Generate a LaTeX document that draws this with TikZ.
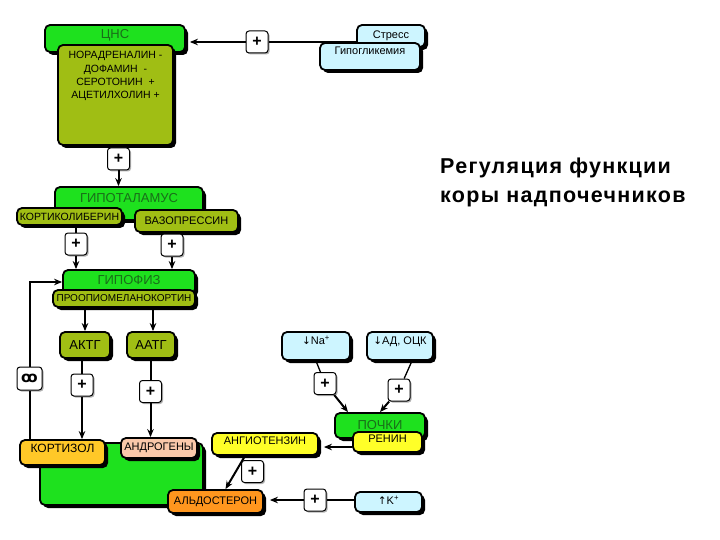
\documentclass[tikz,border=0pt]{standalone}
\usepackage{fontspec}
\setmainfont{Liberation Sans}
\newfontfamily\symfont{DejaVu Sans}
\newfontfamily\titlefont[LetterSpace=6]{Liberation Sans}
\usetikzlibrary{shadows,arrows.meta,calc}
\definecolor{cgreen}{RGB}{30,225,30}
\definecolor{colive}{RGB}{160,190,20}
\definecolor{ccyan}{RGB}{205,245,255}
\definecolor{cgold}{RGB}{255,200,40}
\definecolor{cpeach}{RGB}{250,200,170}
\definecolor{cyel}{RGB}{255,255,40}
\definecolor{corange}{RGB}{255,150,30}
\definecolor{ctext}{RGB}{25,110,25}
\newcommand{\tx}[2]{\raisebox{#1}[0pt][0pt]{#2}}
\tikzset{
 bx/.style={draw=black, line width=1.8pt, rounded corners=5pt, inner sep=0pt,
   drop shadow={shadow xshift=3pt, shadow yshift=-3pt, fill=black, opacity=1},
   font=\fontsize{11}{13}\selectfont},
 grn/.style={bx, fill=cgreen, text=ctext, font=\fontsize{13}{15}\selectfont},
 olv/.style={bx, fill=colive},
 cyn/.style={bx, fill=ccyan},
 pl/.style={draw=black, line width=1pt, rounded corners=3pt, fill=white,
   minimum width=22pt, minimum height=22pt, inner sep=0pt,
   font=\bfseries\fontsize{16}{16}\selectfont,
   drop shadow={shadow xshift=1.5pt, shadow yshift=-1.5pt, fill=gray!60, opacity=1}},
 ln/.style={line width=2pt},
 ar/.style={line width=2pt, -{Stealth[length=8pt,width=6.5pt]}},
}
\begin{document}
\begin{tikzpicture}[x=1pt,y=-1pt]
\useasboundingbox (0,0) rectangle (720,540);
\fill[white] (0,0) rectangle (720,540);

% CNS
\node[grn, minimum width=140pt, minimum height=27pt] (cns) at (115,38.5) {\tx{0pt}{ЦНС}};
\node[olv, minimum width=115pt, minimum height=100pt, font=\fontsize{10.5}{13.3}\selectfont] (nora) at (115.5,95)
  {\tx{16pt}{\begin{tabular}{@{}c@{}}НОРАДРЕНАЛИН -\\ДОФАМИН \ -\\СЕРОТОНИН \ +\\АЦЕТИЛХОЛИН +\end{tabular}}};

% stress
\node[cyn, minimum width=68pt, minimum height=22pt] (stress) at (391,36) {\tx{-3pt}{Стресс}};
\node[cyn, minimum width=100pt, minimum height=27pt] (hypo) at (370,56.5) {\tx{1.5pt}{Гипогликемия}};
\node[pl] (p1) at (257,42) {+};
\draw[line width=1.3pt] (stress.west |- p1) -- (p1);
\draw[line width=1.3pt, -{Stealth[length=8pt,width=6.5pt]}] (p1) -- ($(cns.east |- p1)+(4,0)$);

\node[pl] (p2) at (118.5,159) {+};
\draw[ln] (nora.south -| p2) -- (p2);

% hypothalamus
\node[grn, minimum width=148pt, minimum height=33pt] (hyp) at (129,203.5) {\tx{1.3pt}{ГИПОТАЛАМУС}};
\node[olv, minimum width=105pt, minimum height=17pt, font=\fontsize{10.5}{12}\selectfont] (kort) at (69.5,216.5) {КОРТИКОЛИБЕРИН};
\node[olv, minimum width=103pt, minimum height=22pt] (vaz) at (186.5,221) {ВАЗОПРЕССИН};
\draw[ar] (p2) -- (hyp.north -| p2);

\node[pl] (p3) at (76,244) {+};
\node[pl] (p4) at (172,245) {+};

% hypophysis
\node[grn, minimum width=132pt, minimum height=24pt] (hypof) at (129,282) {\tx{-2.7pt}{ГИПОФИЗ}};
\node[olv, minimum width=142pt, minimum height=17pt, font=\fontsize{10}{12}\selectfont] (pomc) at (124,298.5) {ПРООПИОМЕЛАНОКОРТИН};
\draw[ln] (kort.south -| p3) -- (p3);
\draw[ar] (p3) -- (hypof.north -| p3);
\draw[ln] (vaz.south -| p4) -- (p4);
\draw[ar] (p4) -- (hypof.north -| p4);

% ACTH
\node[olv, minimum width=50pt, minimum height=26pt, font=\fontsize{13}{15}\selectfont] (aktg) at (85,345) {АКТГ};
\node[olv, minimum width=48pt, minimum height=26pt, font=\fontsize{13}{15}\selectfont] (aatg) at (151,345) {ААТГ};
\draw[ar] (pomc.south -| aktg) -- (aktg.north);
\draw[ar] ($(pomc.south -| aatg)+(2,0)$) -- ($(aatg.north)+(2,0)$);

\node[pl] (pA) at (82,385) {+};
\node[pl] (pB) at (150.5,391.5) {+};
\node[pl, minimum width=25pt, minimum height=23pt, font=\symfont\bfseries\fontsize{15}{15}\selectfont] (sym) at (29.5,378.5) {ꝏ};

% adrenal
\node[bx, fill=cgreen, minimum width=163pt, minimum height=62pt] (adr) at (121.5,474) {};
\node[bx, fill=cgold, minimum width=85pt, minimum height=25pt, font=\fontsize{12}{14}\selectfont] (kortizol) at (62.5,452.5) {\tx{0.2pt}{КОРТИЗОЛ}};
\node[bx, fill=cpeach, minimum width=76pt, minimum height=20pt] (andr) at (159,448) {АНДРОГЕНЫ};
\node[bx, fill=corange, minimum width=95pt, minimum height=23pt] (aldo) at (215.5,501.5) {АЛЬДОСТЕРОН};

\draw[ln] (aktg.south -| pA) -- (pA);
\draw[ar] (pA) -- (kortizol.north -| pA);
\draw[ln] (aatg.south -| pB) -- (pB);
\draw[ar] (pB) -- (andr.north -| pB);
\draw[ln] (kortizol.north -| sym) -- (sym);
\draw[ar] (sym) |- (hypof.west);

% kidney
\node[cyn, minimum width=68pt, minimum height=28pt] (na) at (316,346) {\tx{2pt}{{\symfont\fontsize{10.5}{12}\selectfont↓}Na\textsuperscript{+}}};
\node[cyn, minimum width=66pt, minimum height=28pt] (ad) at (400,346) {\tx{2pt}{{\symfont\fontsize{10.5}{12}\selectfont↓}АД, ОЦК}};
\node[pl] (pNa) at (325,383.5) {+};
\node[pl] (pAd) at (399,390) {+};
\node[grn, minimum width=90pt, minimum height=25pt] (pochki) at (380,425.5) {\tx{-4pt}{ПОЧКИ}};
\node[bx, fill=cyel, minimum width=69pt, minimum height=20pt] (renin) at (387.5,442) {\tx{0pt}{РЕНИН}};
\node[bx, fill=cyel, minimum width=106pt, minimum height=22pt] (angio) at (265,444) {\tx{0pt}{АНГИОТЕНЗИН}};
\node[pl] (pAng) at (252.5,471.5) {+};
\node[cyn, minimum width=67pt, minimum height=20pt] (k) at (388.5,502) {\tx{-2pt}{{\symfont\fontsize{10.5}{12}\selectfont↑}K\textsuperscript{+}}};
\node[pl] (pK) at (315,500) {+};

\draw[line width=1.3pt] (na.south) -- (pNa);
\draw[ar] (pNa) -- ($(pochki.north)+(-32,0)$);
\draw[line width=1.3pt] ($(ad.south)+(12,0)$) -- (pAd);
\draw[ar] (pAd) -- (pochki.north);
\draw[ar] ($(renin.west)+(0,5)$) -- ($(angio.east |- renin.west)+(5,5)$);
\draw[ar] ($(angio.south)+(-20,0)$) -- ($(aldo.north)+(10,0)$);
\draw[line width=1.3pt] (k.west |- pK) -- (pK);
\draw[ar] (pK) -- ($(aldo.east |- pK)+(6,0)$);

% title
\node[anchor=north west, inner sep=0pt, align=left, font=\titlefont\bfseries\fontsize{21.5}{28.5}\selectfont] (title) at (440,158) {Регуляция функции\\коры надпочечников};
\end{tikzpicture}
\end{document}
